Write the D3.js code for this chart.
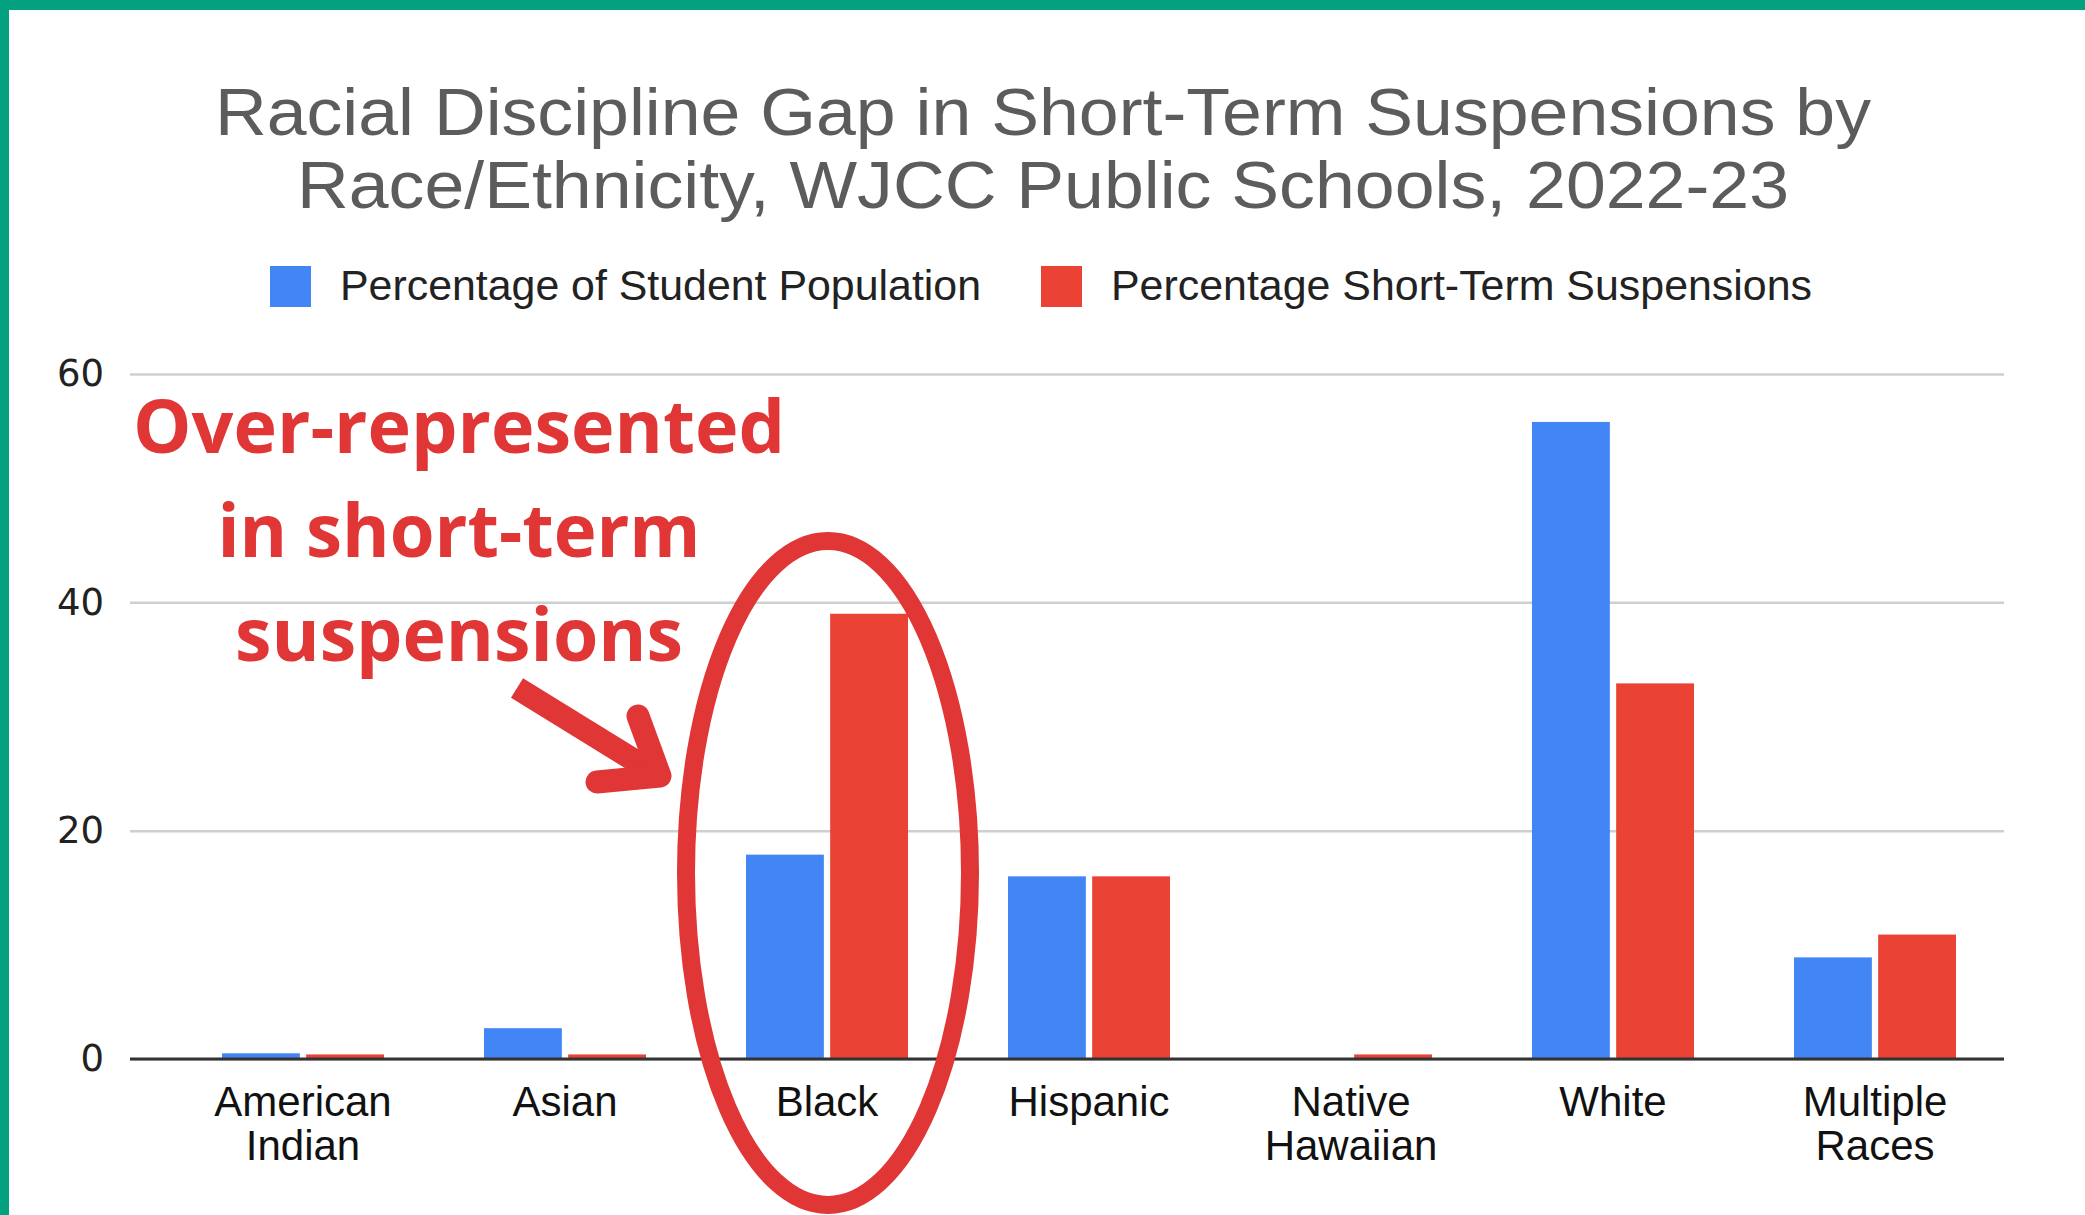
<!DOCTYPE html>
<html>
<head>
<meta charset="utf-8">
<script src="https://cdn.jsdelivr.net/npm/d3@7"></script>
<style>
  body { margin: 0; background: #fff; }
  svg { display: block; }
</style>
</head>
<body>
<div id="chart"></div>
<script>
const WIDTH = 2085;
const HEIGHT = 1215;

// data
const categories = ['American Indian', 'Asian', 'Black', 'Hispanic', 'Native Hawaiian', 'White', 'Multiple Races'];
const studentPct = [0.5, 2.7, 17.9, 16, 0, 55.8, 8.9];
const suspensionPct = [0.4, 0.4, 39, 16, 0.4, 32.9, 10.9];
const seriesNames = ['Percentage of Student Population', 'Percentage Short-Term Suspensions'];
const seriesColors = ['#4285f4', '#ea4335'];
const yTicks = [0, 20, 40, 60];
const titleLines = ['Racial Discipline Gap in Short-Term Suspensions by', 'Race/Ethnicity, WJCC Public Schools, 2022-23'];
const noteLines = ['Over-represented', 'in short-term', 'suspensions'];

const RED = '#e03636';

const svg = d3.select('#chart').append('svg')
    .attr('width', WIDTH)
    .attr('height', HEIGHT)
    .style('background', '#fff');

// green frame (top + left)
svg.append('rect').attr('x', 0).attr('y', 0).attr('width', WIDTH).attr('height', 10).attr('fill', '#03a17f');
svg.append('rect').attr('x', 0).attr('y', 0).attr('width', 9).attr('height', HEIGHT).attr('fill', '#03a17f');

// title
const titleWidths = [1656, 1492];
svg.append('g')
    .selectAll('text')
    .data(titleLines)
    .join('text')
    .attr('x', 1043)
    .attr('y', (d, i) => 135 + i * 73)
    .attr('text-anchor', 'middle')
    .attr('textLength', (d, i) => titleWidths[i])
    .attr('lengthAdjust', 'spacingAndGlyphs')
    .style('font-family', '"Liberation Sans", Arial, sans-serif')
    .style('font-size', '67px')
    .style('fill', '#5c5c5c')
    .text(d => d);

// legend
const legendX = [270, 1041];
const legendW = [641, 701];
const legend = svg.append('g')
    .selectAll('g')
    .data(seriesNames)
    .join('g')
    .attr('transform', (d, i) => `translate(${legendX[i]},266)`);
legend.append('rect')
    .attr('width', 41).attr('height', 41)
    .attr('fill', (d, i) => seriesColors[i]);
legend.append('text')
    .attr('x', 70).attr('y', 34)
    .attr('textLength', (d, i) => legendW[i])
    .attr('lengthAdjust', 'spacingAndGlyphs')
    .style('font-family', '"Liberation Sans", Arial, sans-serif')
    .style('font-size', '42px')
    .style('fill', '#222')
    .text(d => d);

// scales
const x = d3.scaleBand().domain(categories).range([172, 2006]);
const x1 = d3.scaleBand().domain([0, 1]).range([0, 162]).paddingInner(0.075);
const y = d3.scaleLinear().domain([0, 60]).range([1059, 374]);

// gridlines + y labels
const yAxis = svg.append('g')
    .attr('transform', 'translate(130,0)')
    .call(d3.axisLeft(y).tickValues(yTicks).tickSize(-(2004 - 130)).tickPadding(26).tickFormat(d3.format('d')));
yAxis.select('.domain').remove();
yAxis.selectAll('.tick line').attr('stroke', '#cfcfcf').attr('stroke-width', 2.5);
yAxis.selectAll('.tick text')
    .style('font-family', '"DejaVu Sans", sans-serif')
    .style('font-size', '37px')
    .style('fill', '#222');

// bars
const rows = categories.map((c, i) => ({ cat: c, vals: [studentPct[i], suspensionPct[i]] }));
svg.append('g')
    .selectAll('g')
    .data(rows)
    .join('g')
    .attr('transform', d => `translate(${x(d.cat) + (x.bandwidth() - 162) / 2},0)`)
    .selectAll('rect')
    .data(d => d.vals)
    .join('rect')
    .attr('x', (d, i) => x1(i))
    .attr('width', x1.bandwidth())
    .attr('y', d => y(d))
    .attr('height', d => y(0) - y(d))
    .attr('fill', (d, i) => seriesColors[i]);

// baseline
svg.append('line')
    .attr('x1', 130).attr('x2', 2004)
    .attr('y1', y(0)).attr('y2', y(0))
    .attr('stroke', '#333').attr('stroke-width', 3);

// x labels
const xAxis = svg.append('g')
    .attr('transform', `translate(0,${y(0)})`)
    .call(d3.axisBottom(x).tickSize(0).tickPadding(0));
xAxis.select('.domain').remove();
xAxis.selectAll('.tick text')
    .attr('y', 0).attr('dy', null)
    .style('font-family', '"Liberation Sans", Arial, sans-serif')
    .style('font-size', '42px')
    .style('fill', '#111')
    .text(null)
    .each(function(d) {
        const parts = d.split(' ');
        d3.select(this).selectAll('tspan')
            .data(parts)
            .join('tspan')
            .attr('x', 0)
            .attr('y', (p, i) => 57 + i * 44)
            .text(p => p);
    });

// annotation
const noteW = [652, 483, 448];
svg.append('g')
    .selectAll('text')
    .data(noteLines)
    .join('text')
    .attr('x', 459)
    .attr('y', (d, i) => 453 + i * 104)
    .attr('text-anchor', 'middle')
    .attr('textLength', (d, i) => noteW[i])
    .attr('lengthAdjust', 'spacingAndGlyphs')
    .style('font-family', '"Open Sans", sans-serif')
    .style('font-weight', 700)
    .style('font-size', '74px')
    .style('fill', RED)
    .text(d => d);

// arrow
svg.append('line')
    .attr('x1', 517).attr('y1', 688)
    .attr('x2', 650).attr('y2', 770)
    .attr('stroke', RED).attr('stroke-width', 23);
svg.append('path')
    .attr('d', 'M638,716 L660,776 L597,782')
    .attr('fill', 'none')
    .attr('stroke', RED)
    .attr('stroke-width', 23)
    .attr('stroke-linecap', 'round')
    .attr('stroke-linejoin', 'round');

// ellipse around Black
svg.append('ellipse')
    .attr('cx', x('Black') + x.bandwidth() / 2 + 1)
    .attr('cy', 873)
    .attr('rx', 142)
    .attr('ry', 332)
    .attr('fill', 'none')
    .attr('stroke', RED)
    .attr('stroke-width', 18);
</script>
</body>
</html>
